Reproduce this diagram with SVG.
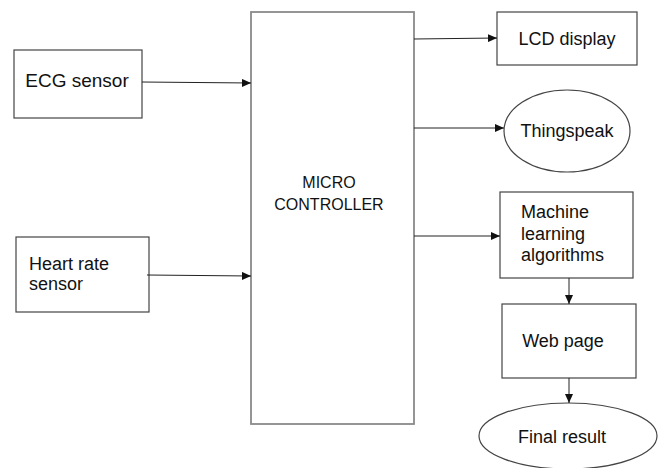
<svg xmlns="http://www.w3.org/2000/svg" width="666" height="468" viewBox="0 0 666 468">
<style>
text{font-family:"Liberation Sans",Arial,sans-serif;font-size:18px;fill:#111}
.box{fill:#fff;stroke:#444;stroke-width:1.2}
.mc{fill:#fff;stroke:#8a8a8a;stroke-width:1.8}
.ln{fill:none;stroke:#222;stroke-width:1;marker-end:url(#ah)}
</style>
<defs>
<marker id="ah" markerWidth="10" markerHeight="8" refX="9" refY="4" orient="auto" markerUnits="userSpaceOnUse">
<path d="M0,0 L9,4 L0,8 Z" fill="#111"/>
</marker>
</defs>
<rect width="666" height="468" fill="#fff"/>
<g id="micro">
<rect class="mc" x="251" y="12" width="163" height="412"/>
<text x="329" y="188" text-anchor="middle" style="font-size:16px">MICRO</text>
<text x="329" y="210" text-anchor="middle" style="font-size:16px">CONTROLLER</text>
</g>
<g id="ecg">
<rect class="box" x="14" y="50" width="128" height="68"/>
<text x="77" y="87" text-anchor="middle" style="font-size:19px">ECG sensor</text>
</g>
<g id="heart">
<rect class="box" x="16" y="237" width="133" height="75"/>
<text x="29" y="270">Heart rate</text>
<text x="29" y="290">sensor</text>
</g>
<g id="lcd">
<rect class="box" x="497" y="12" width="140" height="53"/>
<text x="567" y="45" text-anchor="middle">LCD display</text>
</g>
<g id="thingspeak">
<ellipse class="box" cx="567" cy="131" rx="63" ry="41"/>
<text x="567" y="137" text-anchor="middle">Thingspeak</text>
</g>
<g id="ml">
<rect class="box" x="500" y="192" width="133" height="86"/>
<text x="521" y="218">Machine</text>
<text x="521" y="240">learning</text>
<text x="521" y="261">algorithms</text>
</g>
<g id="web">
<rect class="box" x="502" y="304" width="134" height="74"/>
<text x="563" y="347" text-anchor="middle">Web page</text>
</g>
<g id="final">
<ellipse class="box" cx="568" cy="436" rx="89" ry="33"/>
<text x="562" y="443" text-anchor="middle">Final result</text>
</g>
<g id="connectors">
<line class="ln" x1="142" y1="82" x2="251" y2="83"/>
<line class="ln" x1="147" y1="275" x2="251" y2="276"/>
<line class="ln" x1="414" y1="39" x2="497" y2="38"/>
<line class="ln" x1="414" y1="128" x2="504" y2="128"/>
<line class="ln" x1="414" y1="236" x2="500" y2="236"/>
<line class="ln" x1="569" y1="278" x2="569" y2="304"/>
<line class="ln" x1="569" y1="378" x2="569" y2="403"/>
</g>
</svg>
